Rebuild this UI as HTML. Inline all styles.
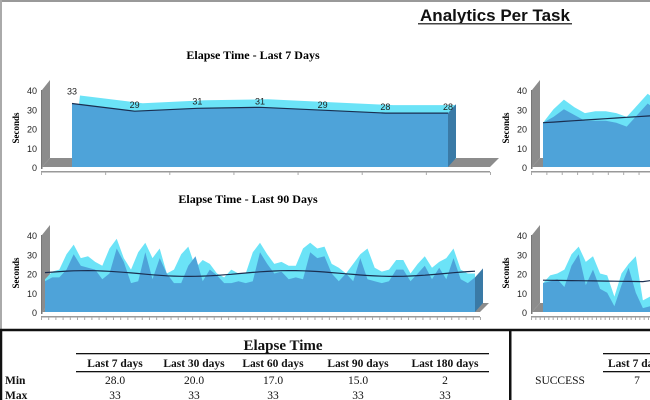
<!DOCTYPE html>
<html><head><meta charset="utf-8"><style>
body{margin:0;width:650px;height:400px;overflow:hidden;background:#fff}
svg{display:block}
.s{font-family:"Liberation Serif",serif}
</style></head><body>
<svg id="c" width="650" height="400" xmlns="http://www.w3.org/2000/svg">
<rect x="0" y="0" width="650" height="2" fill="#999"/>
<rect x="0" y="0" width="2" height="330" fill="#aaa"/>
<text x="495" y="21" font-family="Liberation Sans,sans-serif" font-weight="bold" font-size="17" text-anchor="middle" fill="#111">Analytics Per Task</text>
<rect x="418" y="23" width="154" height="1.5" fill="#444"/>
<text class="s" x="253" y="59" font-weight="bold" font-size="12" text-anchor="middle">Elapse Time - Last 7 Days</text>
<text class="s" x="248" y="203" font-weight="bold" font-size="12" text-anchor="middle">Elapse Time - Last 90 Days</text>
<g id="g"></g>
<rect x="1" y="330" width="660" height="72" fill="none" stroke="#111" stroke-width="2.5"/>
<rect x="509" y="330" width="2.5" height="70" fill="#111"/>
<g class="s" font-size="11.5" fill="#111">
<text x="283" y="350" font-size="15" font-weight="bold" text-anchor="middle">Elapse Time</text>
<rect x="76" y="353" width="413" height="1.3" fill="#111"/>
<g text-anchor="middle">
<g font-weight="bold">
<text x="115" y="367">Last 7 days</text><text x="194" y="367">Last 30 days</text><text x="273" y="367">Last 60 days</text><text x="358" y="367">Last 90 days</text><text x="445" y="367">Last 180 days</text>
</g>
<text x="115" y="384">28.0</text><text x="194" y="384">20.0</text><text x="273" y="384">17.0</text><text x="358" y="384">15.0</text><text x="445" y="384">2</text>
<text x="115" y="399">33</text><text x="194" y="399">33</text><text x="273" y="399">33</text><text x="358" y="399">33</text><text x="445" y="399">33</text>
<text x="560" y="384">SUCCESS</text><text x="637" y="384">7</text>
</g>
<rect x="76" y="371" width="413" height="1.3" fill="#111"/>
<text x="5" y="384" font-weight="bold">Min</text><text x="5" y="399" font-weight="bold">Max</text>
<rect x="603" y="353" width="60" height="1.3" fill="#111"/>
<text x="608" y="367" font-weight="bold">Last 7 days</text>
<rect x="603" y="371" width="60" height="1.3" fill="#111"/>
</g>
</svg>
<script>
var g=document.getElementById('g'),h='';
function poly(pts,f){return '<polygon points="'+pts.map(p=>p[0].toFixed(1)+','+p[1].toFixed(1)).join(' ')+'" fill="'+f+'"/>';}
function chart(o){
 var y0=o.y0,sc=(o.y0-o.y40)/40,ax=o.ax;
 for(var v=0;v<=40;v+=10){var yy=y0-v*sc;h+='<text x="'+(ax-4)+'" y="'+(yy+4)+'" font-family="Liberation Sans,sans-serif" font-size="9" text-anchor="end" fill="#222">'+v+'</text>';}
 h+='<text class="s" transform="translate('+(ax-22)+','+(y0-39)+') rotate(-90)" font-size="9" font-weight="bold" text-anchor="middle">Seconds</text>';
 h+='<rect x="'+ax+'" y="'+o.y40+'" width="1.5" height="'+(y0-o.y40+2)+'" fill="#777"/>';
 h+=poly([[ax+1,o.y40],[ax+9,o.y40-10],[ax+9,y0-9],[ax+1,y0]],'#8c8c8c');
 h+=poly([[ax+1,y0],[ax+9,y0-9],[o.fx+9,y0-9],[o.fx,y0]],'#8c8c8c');
 h+='<rect x="'+ax+'" y="'+(y0+4)+'" width="'+(o.fx-ax)+'" height="1.5" fill="#999"/>';
 for(var t=0;t<o.nt;t++){var tx=ax+(o.fx-ax)*t/(o.nt-1);h+='<rect x="'+tx+'" y="'+(y0+5)+'" width="1" height="3" fill="#aaa"/>';}
 var n=o.d.length,xs=[];for(var i=0;i<n;i++)xs.push(o.x1+(o.x2-o.x1)*i/(n-1));
 var c=[[o.x1,y0]];for(i=0;i<n;i++)c.push([xs[i]+o.dx,y0-o.c[i]*sc-o.dy]);c.push([o.x2+o.dx,y0-o.dy]);
 h+=poly(c,'#6be3f7');
 var d=[[o.x1,y0]];for(i=0;i<n;i++)d.push([xs[i],y0-o.d[i]*sc]);d.push([o.x2,y0]);
 h+=poly(d,'#4ea3d9');
 h+=poly([[o.x2,y0],[o.x2,y0-o.d[n-1]*sc],[o.x2+8,y0-o.d[n-1]*sc-9],[o.x2+8,y0-9]],'#3a7aa6');
 var tl='';for(i=0;i<n;i++)tl+=(i?'L':'M')+xs[i].toFixed(1)+','+(y0-o.t[i]*sc).toFixed(1);
 h+='<path d="'+tl+'" fill="none" stroke="#1a2e50" stroke-width="1.2"/>';
 if(o.lab)for(i=0;i<n;i++)h+='<text x="'+xs[i]+'" y="'+(y0-o.lab[i]*sc-(i==0?9:3))+'" font-family="Liberation Sans,sans-serif" font-size="9" text-anchor="middle" fill="#222">'+o.lab[i]+'</text>';
}
var d7=[33,29,30.5,31,29.5,28,28];
chart({y0:167,y40:90,ax:41,fx:490,nt:8,x1:72,x2:448,dx:8,dy:8,d:d7,c:d7,t:d7,lab:[33,29,31,31,29,28,28]});
var D=[16,18,18,22,30,24,23,22,17,20,33,26,15,16,31,17,28,20,15,15,24,29,16,22,19,15,15,16,15,16,31,25,20,21,17,18,17,31,28,29,20,16,20,16,28,17,16,15,16,22,22,16,20,24,17,23,17,28,17,15,18];
var C=[17,21,22,30,35,28,29,26,24,33,38,28,22,31,36,28,33,20,22,30,34,23,27,25,20,18,22,20,20,31,36,30,25,26,24,24,33,36,33,34,25,23,20,25,30,33,23,21,22,27,27,20,25,29,23,26,28,33,22,20,20];
var T=D.map((v,i)=>20+1.5*Math.sin(i/60*Math.PI*4.2+0.3));
chart({y0:312,y40:235,ax:41,fx:480,nt:62,x1:45,x2:475,dx:0,dy:0,d:D,c:C,t:T});
var R1=[23,26,30,27,24,24,24,23,21,27,33,29,24,29,33,30];
var RC=[23,30,35,31,28,29,29,28,26,32,38,34,28,33,36,34];
chart({y0:167,y40:90,ax:531,fx:700,nt:12,x1:543,x2:700,dx:0,dy:0,d:R1,c:RC,t:R1.map((v,i)=>23+i*0.35)});
var R2=[15,16,17,13,24,30,14,22,12,10,3,14,23,10,2,3,20,17,18,14,32,26,24];
var RC2=[15,19,20,22,30,34,26,29,20,19,8,20,25,29,6,8,22,25,23,18,33,37,35];
chart({y0:312,y40:235,ax:531,fx:700,nt:40,x1:543,x2:700,dx:0,dy:0,d:R2,c:RC2,t:R2.map((v,i)=>16.5-0.05*i+(i>14?(i-14)*0.5:0))});
g.innerHTML=h;
</script>
</body></html>
